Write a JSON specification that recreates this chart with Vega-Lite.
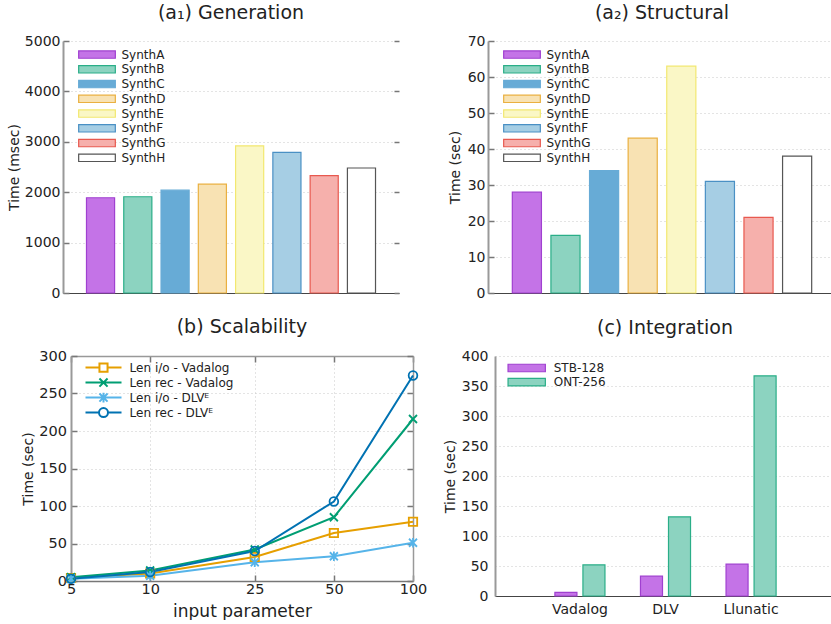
{
  "$schema": "https://vega.github.io/schema/vega-lite/v6.json",
  "background": "white",
  "padding": {"left": 7, "top": 4, "right": 0, "bottom": 0},
  "bounds": "flush",
  "align": "none",
  "columns": 2,
  "spacing": {"row": 63, "column": 75},
  "resolve": {
    "scale": {"fill": "independent", "stroke": "independent", "color": "independent", "shape": "independent"},
    "legend": {"fill": "independent", "stroke": "independent", "color": "independent", "shape": "independent"}
  },
  "config": {
    "font": "DejaVu Sans",
    "view": {"stroke": null},
    "axis": {"labelFont": "DejaVu Sans", "titleFont": "DejaVu Sans", "labelFontSize": 14, "titleFontSize": 14, "titleFontWeight": "normal", "labelColor": "#222", "titleColor": "#222", "gridColor": "#c8c8c8", "gridDash": [1, 3], "gridWidth": 1, "domainColor": "#999", "domainWidth": 2, "tickColor": "#777", "tickWidth": 1.5},
    "legend": {"labelFont": "DejaVu Sans", "labelFontSize": 12, "labelColor": "#222", "padding": 0, "rowPadding": 0.75, "orient": "none"},
    "title": {"font": "DejaVu Sans", "fontSize": 19, "fontWeight": "normal", "color": "#222", "anchor": "middle", "offset": 11}
  },
  "concat": [
    {
      "title": "(a₁) Generation",
      "width": 336, "height": 252,
      "data": {"values": [
        {"synth": "SynthA", "time": 1890}, {"synth": "SynthB", "time": 1910}, {"synth": "SynthC", "time": 2040}, {"synth": "SynthD", "time": 2160},
        {"synth": "SynthE", "time": 2920}, {"synth": "SynthF", "time": 2790}, {"synth": "SynthG", "time": 2330}, {"synth": "SynthH", "time": 2480}
      ]},
      "encoding": {
        "x": {"field": "synth", "type": "nominal", "sort": null, "scale": {"paddingInner": 0.246, "paddingOuter": 0.63}, "axis": {"labels": false, "ticks": false, "title": null, "domainColor": "#444", "domainWidth": 1}},
        "y": {"field": "time", "type": "quantitative", "scale": {"domain": [0, 5000], "nice": false}}
      },
      "resolve": {"axis": {"y": "independent"}},
      "layer": [
        {
          "mark": {"type": "bar", "strokeWidth": 1.2},
          "encoding": {
            "y": {"field": "time", "type": "quantitative", "axis": {"orient": "left", "title": "Time (msec)", "format": "d", "values": [0, 1000, 2000, 3000, 4000, 5000], "grid": true, "tickSize": -6, "labelPadding": 9, "titlePadding": 3}},
            "fill": {"field": "synth", "type": "nominal", "sort": null, "scale": {"domain": ["SynthA", "SynthB", "SynthC", "SynthD", "SynthE", "SynthF", "SynthG", "SynthH"], "range": ["#c473e7", "#8cd3c0", "#67abd6", "#f8e2b3", "#faf7c6", "#a6cee4", "#f6b0ac", "#ffffff"]},
              "legend": {"title": null, "legendX": 28, "legendY": 7.6, "symbolType": "M-4,-0.8H4V0.8H-4Z", "symbolSize": 84, "symbolStrokeWidth": 1.2, "labelOffset": 18.5}},
            "stroke": {"field": "synth", "type": "nominal", "sort": null, "scale": {"domain": ["SynthA", "SynthB", "SynthC", "SynthD", "SynthE", "SynthF", "SynthG", "SynthH"], "range": ["#a040d0", "#2aae88", "#67abd6", "#eab040", "#f2e870", "#4a90c4", "#e8594f", "#555555"]},
              "legend": {"title": null, "legendX": 28, "legendY": 7.6, "symbolType": "M-4,-0.8H4V0.8H-4Z", "symbolSize": 84, "symbolStrokeWidth": 1.2, "labelOffset": 18.5}}
          }
        },
        {
          "mark": {"type": "bar", "opacity": 0},
          "encoding": {
            "y": {"field": "time", "type": "quantitative", "axis": {"orient": "right", "offset": -5, "labels": false, "title": null, "grid": false, "domain": false, "tickSize": 5, "values": [0, 1000, 2000, 3000, 4000, 5000]}}
          }
        }
      ]
    },
    {
      "title": "(a₂) Structural",
      "width": 348, "height": 252,
      "data": {"values": [
        {"synth": "SynthA", "time": 28}, {"synth": "SynthB", "time": 16}, {"synth": "SynthC", "time": 34}, {"synth": "SynthD", "time": 43},
        {"synth": "SynthE", "time": 63}, {"synth": "SynthF", "time": 31}, {"synth": "SynthG", "time": 21}, {"synth": "SynthH", "time": 38}
      ]},
      "encoding": {
        "x": {"field": "synth", "type": "nominal", "sort": null, "scale": {"paddingInner": 0.246, "paddingOuter": 0.63}, "axis": {"labels": false, "ticks": false, "title": null, "domainColor": "#444", "domainWidth": 1}},
        "y": {"field": "time", "type": "quantitative", "scale": {"domain": [0, 70], "nice": false}}
      },
      "resolve": {"axis": {"y": "independent"}},
      "layer": [
        {
          "mark": {"type": "bar", "strokeWidth": 1.2},
          "encoding": {
            "y": {"field": "time", "type": "quantitative", "axis": {"orient": "left", "title": "Time (sec)", "values": [0, 10, 20, 30, 40, 50, 60, 70], "grid": true, "tickSize": -6, "labelPadding": 9, "titlePadding": 5}},
            "fill": {"field": "synth", "type": "nominal", "sort": null, "scale": {"domain": ["SynthA", "SynthB", "SynthC", "SynthD", "SynthE", "SynthF", "SynthG", "SynthH"], "range": ["#c473e7", "#8cd3c0", "#67abd6", "#f8e2b3", "#faf7c6", "#a6cee4", "#f6b0ac", "#ffffff"]},
              "legend": {"title": null, "legendX": 28, "legendY": 7.6, "symbolType": "M-4,-0.8H4V0.8H-4Z", "symbolSize": 84, "symbolStrokeWidth": 1.2, "labelOffset": 18.5}},
            "stroke": {"field": "synth", "type": "nominal", "sort": null, "scale": {"domain": ["SynthA", "SynthB", "SynthC", "SynthD", "SynthE", "SynthF", "SynthG", "SynthH"], "range": ["#a040d0", "#2aae88", "#67abd6", "#eab040", "#f2e870", "#4a90c4", "#e8594f", "#555555"]},
              "legend": {"title": null, "legendX": 28, "legendY": 7.6, "symbolType": "M-4,-0.8H4V0.8H-4Z", "symbolSize": 84, "symbolStrokeWidth": 1.2, "labelOffset": 18.5}}
          }
        },
        {
          "mark": {"type": "bar", "opacity": 0},
          "encoding": {
            "y": {"field": "time", "type": "quantitative", "axis": {"orient": "right", "offset": -5, "labels": false, "title": null, "grid": false, "domain": false, "tickSize": 5, "values": [0, 10, 20, 30, 40, 50, 60, 70]}}
          }
        }
      ]
    },
    {
      "title": {"text": "(b) Scalability", "dx": 4},
      "width": 350, "height": 225,
      "data": {"values": [
        {"series": "Len i/o - Vadalog", "n": 5, "time": 4}, {"series": "Len i/o - Vadalog", "n": 10, "time": 10}, {"series": "Len i/o - Vadalog", "n": 25, "time": 32}, {"series": "Len i/o - Vadalog", "n": 50, "time": 64}, {"series": "Len i/o - Vadalog", "n": 100, "time": 79},
        {"series": "Len rec - Vadalog", "n": 5, "time": 5}, {"series": "Len rec - Vadalog", "n": 10, "time": 14}, {"series": "Len rec - Vadalog", "n": 25, "time": 42}, {"series": "Len rec - Vadalog", "n": 50, "time": 85}, {"series": "Len rec - Vadalog", "n": 100, "time": 216},
        {"series": "Len i/o - DLVᴱ", "n": 5, "time": 3}, {"series": "Len i/o - DLVᴱ", "n": 10, "time": 7}, {"series": "Len i/o - DLVᴱ", "n": 25, "time": 25}, {"series": "Len i/o - DLVᴱ", "n": 50, "time": 33}, {"series": "Len i/o - DLVᴱ", "n": 100, "time": 51},
        {"series": "Len rec - DLVᴱ", "n": 5, "time": 3}, {"series": "Len rec - DLVᴱ", "n": 10, "time": 12}, {"series": "Len rec - DLVᴱ", "n": 25, "time": 40}, {"series": "Len rec - DLVᴱ", "n": 50, "time": 106}, {"series": "Len rec - DLVᴱ", "n": 100, "time": 274}
      ]},
      "encoding": {
        "x": {"field": "n", "type": "quantitative", "scale": {"type": "log", "domain": [5, 100], "nice": false, "range": [8, 350]}},
        "y": {"field": "time", "type": "quantitative", "scale": {"domain": [0, 300], "nice": false}},
        "color": {"field": "series", "type": "nominal", "sort": null, "scale": {"domain": ["Len i/o - Vadalog", "Len rec - Vadalog", "Len i/o - DLVᴱ", "Len rec - DLVᴱ"], "range": ["#E69F00", "#009E73", "#56B4E9", "#0072B2"]}, "legend": null}
      },
      "resolve": {"axis": {"x": "independent", "y": "independent"}},
      "layer": [
        {
          "mark": {"type": "line", "strokeWidth": 2},
          "encoding": {
            "x": {"field": "n", "type": "quantitative", "axis": {"orient": "bottom", "title": "input parameter", "titleFontSize": 17, "titlePadding": 8, "values": [5, 10, 25, 50, 100], "labelFontSize": 14.5, "grid": true, "tickSize": -6, "labelPadding": 7, "domainColor": "#777", "domainWidth": 1.5, "labelFlush": false}},
            "y": {"field": "time", "type": "quantitative", "axis": {"orient": "left", "offset": -8, "title": "Time (sec)", "values": [0, 50, 100, 150, 200, 250, 300], "labelFontSize": 14.5, "grid": true, "tickSize": -6, "labelPadding": 10.5, "titlePadding": 3}},
            "color": {"field": "series", "type": "nominal", "sort": null,
              "legend": {"title": null, "legendX": 34.5, "legendY": 5.6, "symbolType": "M-4,0H4", "symbolSize": 81, "symbolStrokeWidth": 2, "labelOffset": 20.1, "rowPadding": -3,
                "encode": {"symbols": {"update": {"shape": {"signal": "datum.index === 0 ? 'M-4,0H-0.9M0.9,0H4M-0.9,-0.9H0.9V0.9H-0.9Z' : datum.index === 1 ? 'M-4,0H4M-0.9,-0.9L0.9,0.9M-0.9,0.9L0.9,-0.9' : datum.index === 2 ? 'M-4,0H4M-0.9,-0.9L0.9,0.9M-0.9,0.9L0.9,-0.9M0,-1.1V1.1' : 'M-4,0H-1M1,0H4M-1,0A1,1,0,1,0,1,0A1,1,0,1,0,-1,0'"}, "fill": {"value": "transparent"}}}}}}
          }
        },
        {
          "transform": [{"filter": {"field": "series", "equal": "Len i/o - Vadalog"}}],
          "mark": {"type": "point", "shape": "square", "filled": false, "size": 70, "strokeWidth": 1.8, "opacity": 1},
          "encoding": {
            "x": {"field": "n", "type": "quantitative", "axis": {"orient": "top", "labels": false, "title": null, "grid": false, "tickSize": -6, "values": [5, 10, 25, 50, 100], "domainColor": "#999", "domainWidth": 1.5}},
            "y": {"field": "time", "type": "quantitative", "axis": {"orient": "right", "labels": false, "title": null, "grid": false, "tickSize": -6, "values": [0, 50, 100, 150, 200, 250, 300], "domainColor": "#999", "domainWidth": 1.5}}
          }
        },
        {
          "transform": [{"filter": {"field": "series", "equal": "Len rec - Vadalog"}}],
          "mark": {"type": "point", "shape": "M-1,-1L1,1M-1,1L1,-1", "filled": false, "size": 64, "strokeWidth": 1.8, "opacity": 1},
          "encoding": {
            "x": {"field": "n", "type": "quantitative", "axis": null},
            "y": {"field": "time", "type": "quantitative", "axis": null}
          }
        },
        {
          "transform": [{"filter": {"field": "series", "equal": "Len i/o - DLVᴱ"}}],
          "mark": {"type": "point", "shape": "M-1,-1L1,1M-1,1L1,-1M0,-1.2V1.2", "filled": false, "size": 64, "strokeWidth": 1.8, "opacity": 1},
          "encoding": {
            "x": {"field": "n", "type": "quantitative", "axis": null},
            "y": {"field": "time", "type": "quantitative", "axis": null}
          }
        },
        {
          "transform": [{"filter": {"field": "series", "equal": "Len rec - DLVᴱ"}}],
          "mark": {"type": "point", "shape": "circle", "filled": false, "size": 75, "strokeWidth": 1.8, "opacity": 1},
          "encoding": {
            "x": {"field": "n", "type": "quantitative", "axis": null},
            "y": {"field": "time", "type": "quantitative", "axis": null}
          }
        }
      ]
    },
    {
      "title": {"text": "(c) Integration", "dx": 5},
      "width": 344, "height": 240,
      "data": {"values": [
        {"sys": "Vadalog", "ds": "STB-128", "time": 6}, {"sys": "Vadalog", "ds": "ONT-256", "time": 52},
        {"sys": "DLV", "ds": "STB-128", "time": 33}, {"sys": "DLV", "ds": "ONT-256", "time": 132},
        {"sys": "Llunatic", "ds": "STB-128", "time": 53}, {"sys": "Llunatic", "ds": "ONT-256", "time": 367}
      ]},
      "mark": {"type": "bar", "strokeWidth": 1.2},
      "encoding": {
        "x": {"field": "sys", "type": "nominal", "sort": null, "scale": {"paddingInner": 0.415, "paddingOuter": 0.7, "range": [7, 348]}, "axis": {"title": null, "ticks": false, "labelAngle": 0, "labelPadding": 6, "domainColor": "#444", "domainWidth": 1}},
        "xOffset": {"field": "ds", "type": "nominal", "sort": null, "scale": {"paddingInner": 0.214, "paddingOuter": 0}},
        "y": {"field": "time", "type": "quantitative", "scale": {"domain": [0, 400], "nice": false}, "axis": {"title": "Time (sec)", "offset": -7, "values": [0, 50, 100, 150, 200, 250, 300, 350, 400], "grid": true, "ticks": false, "labelPadding": 7, "titlePadding": 4}},
        "fill": {"field": "ds", "type": "nominal", "sort": null, "scale": {"domain": ["STB-128", "ONT-256"], "range": ["#c473e7", "#8cd3c0"]},
          "legend": {"title": null, "legendX": 32.7, "legendY": 6, "symbolType": "M-4,-0.8H4V0.8H-4Z", "symbolSize": 87, "symbolStrokeWidth": 1.2, "labelOffset": 21, "rowPadding": 0.2}},
        "stroke": {"field": "ds", "type": "nominal", "sort": null, "scale": {"domain": ["STB-128", "ONT-256"], "range": ["#a040d0", "#2aae88"]},
          "legend": {"title": null, "legendX": 32.7, "legendY": 6, "symbolType": "M-4,-0.8H4V0.8H-4Z", "symbolSize": 87, "symbolStrokeWidth": 1.2, "labelOffset": 21, "rowPadding": 0.2}}
      }
    }
  ]
}
